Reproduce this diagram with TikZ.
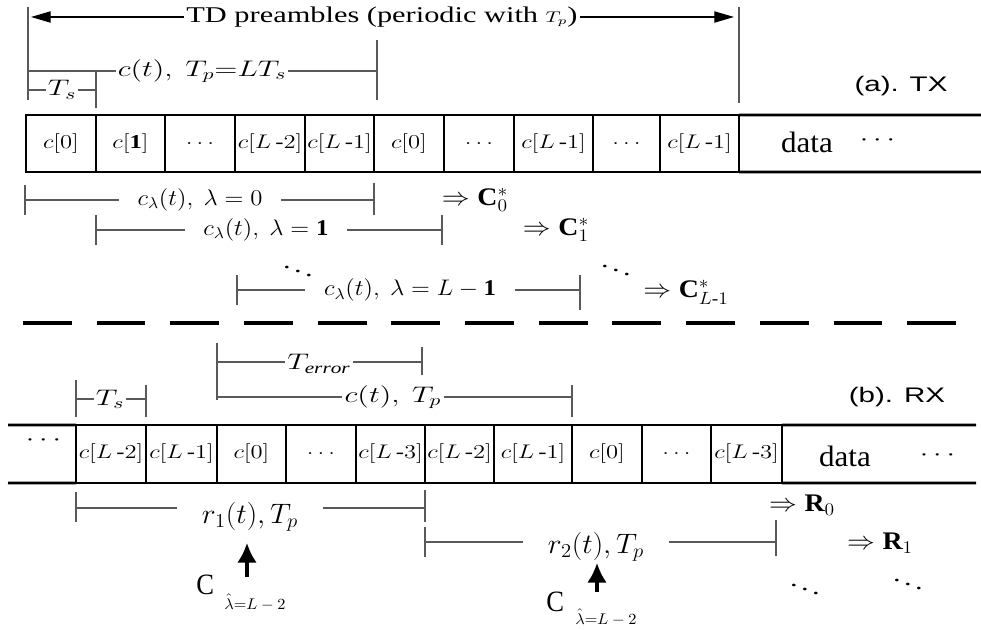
\RequirePackage{fix-cm}
\documentclass[tikz,border=0pt]{standalone}
\usepackage{amsmath}
\usepackage{fontspec}
\setmainfont{Liberation Serif}
\newfontfamily\arialfont{Liberation Sans}
\usepackage{graphicx}
\usetikzlibrary{arrows.meta}
\newcommand{\sx}[1]{\scalebox{1.25}[1]{#1}}
\newcommand{\lamsub}{$\hat{\lambda}{=}L-2$}

\begin{document}
\begin{tikzpicture}[
    x=0.025cm, y=-0.025cm,
    every node/.style={font=\fontsize{16}{18}\selectfont},
    cell/.style={draw, line width=1.8pt, outer sep=0pt, inner sep=0pt, minimum height=1.425cm, minimum width=#1*0.025cm, font=\fontsize{14}{16}\selectfont},
    lbl/.style={inner sep=1pt, xscale=1.35},
    mlbl/.style={inner ysep=1pt, inner xsep=12pt, xscale=1.1},
    rlbl/.style={inner ysep=1pt, inner xsep=17pt, xscale=1.05, font=\fontsize{20}{22}\selectfont},
    big/.style={inner sep=1pt, xscale=1.1, font=\fontsize{18}{20}\selectfont},
    datalbl/.style={inner sep=1pt, xscale=1.05, font=\fontsize{21}{23}\selectfont},
    tag/.style={inner sep=1pt, xscale=1.4, font=\arialfont\fontsize{15}{17}\selectfont},
    ccap/.style={inner sep=0pt, xscale=0.9, anchor=base west, font=\fontsize{21}{23}\selectfont},
    csub/.style={inner sep=0pt, xscale=1.05, anchor=base west, font=\fontsize{11}{13}\selectfont},
    dim/.style={draw=black!65, line width=0.8pt},
    arr/.style={line width=0.8pt, -{Triangle[length=14pt, width=8pt]}},
    rowline/.style={line width=1.8pt},
    sep/.style={line width=3pt, dash pattern=on 34.7pt off 17.7pt},
    uparrow/.style={line width=2.2pt, -{Latex[length=14pt, width=14pt]}}
]
\useasboundingbox (0,0) rectangle (981,630);

% ---------- (a) TX ----------
\coordinate (pa) at (28,7);   \coordinate (pb) at (28,100);
\coordinate (pc) at (739,7);  \coordinate (pd) at (739,103);
\draw[dim] (pa) -- (pb);
\draw[dim] (pc) -- (pd);

\coordinate (tdL) at (31,17);
\coordinate (tdR) at (734,17);
\node[lbl] (td) at (382,17) {TD preambles (periodic with {\fontsize{11}{13}\selectfont$T_p$})};
\draw[arr] (td.west) -- (tdL);
\draw[arr] (td.east) -- (tdR);

\coordinate (ctL) at (28,71);
\coordinate (ctR) at (377,71);
\coordinate (ctA) at (377,40); \coordinate (ctB) at (377,100);
\node[lbl] (ct) at (202,71) {$c(t),\ T_p{=}LT_s$};
\draw[dim] (ctL) -- (ct.west);
\draw[dim] (ct.east) -- (ctR);
\draw[dim] (ctA) -- (ctB);

\coordinate (tsL) at (28,90);
\coordinate (tsR) at (96,90);
\coordinate (tsA) at (96,70); \coordinate (tsB) at (96,108);
\node[lbl] (ts) at (62,90) {$T_s$};
\draw[dim] (tsL) -- (ts.west);
\draw[dim] (ts.east) -- (tsR);
\draw[dim] (tsA) -- (tsB);

\node[tag] (txtag) at (901,86) {(a). TX};

\node[cell=70] (tx1) at (61,143.5) {\sx{$c[0]$}};
\node[cell=69] (tx2) at (130.5,143.5) {\sx{$c[\mathbf{1}]$}};
\node[cell=70] (tx3) at (200,143.5) {\sx{$\ldots$}};
\node[cell=70] (tx4) at (270,143.5) {\sx{$c[L\,\text{-}2]$}};
\node[cell=69] (tx5) at (339.5,143.5) {\sx{$c[L\,\text{-}1]$}};
\node[cell=70] (tx6) at (409,143.5) {\sx{$c[0]$}};
\node[cell=70] (tx7) at (479,143.5) {\sx{$\ldots$}};
\node[cell=79] (tx8) at (553.5,143.5) {\sx{$c[L\,\text{-}1]$}};
\node[cell=67] (tx9) at (626.5,143.5) {\sx{$\ldots$}};
\node[cell=79] (tx10) at (699.5,143.5) {\sx{$c[L\,\text{-}1]$}};
\coordinate (txe1) at (981,115);
\coordinate (txe2) at (981,172);
\draw[rowline] (tx10.north east) -- (txe1);
\draw[rowline] (tx10.south east) -- (txe2);
\node[datalbl] (txd) at (807,142) {data};
\node[lbl] (txdots) at (880,141) {$\cdots$};

% correlation windows
\coordinate (l0a) at (25,185);  \coordinate (l0b) at (25,215);
\coordinate (l0c) at (374,183); \coordinate (l0d) at (374,215);
\coordinate (l0L) at (25,200);  \coordinate (l0R) at (374,200);
\node[mlbl] (lam0) at (200,200) {$c_{\lambda}(t),\ \lambda=0$};
\draw[dim] (l0a) -- (l0b);
\draw[dim] (l0c) -- (l0d);
\draw[dim] (l0L) -- (lam0.west);
\draw[dim] (lam0.east) -- (l0R);
\node[big] (cc0) at (475,200) {$\Rightarrow\mathbf{C}_0^*$};

\coordinate (l1a) at (96,215);  \coordinate (l1b) at (96,245);
\coordinate (l1c) at (442,215); \coordinate (l1d) at (442,245);
\coordinate (l1L) at (96,230);  \coordinate (l1R) at (442,230);
\node[mlbl] (lam1) at (266,230) {$c_{\lambda}(t),\ \lambda=\mathbf{1}$};
\draw[dim] (l1a) -- (l1b);
\draw[dim] (l1c) -- (l1d);
\draw[dim] (l1L) -- (lam1.west);
\draw[dim] (lam1.east) -- (l1R);
\node[big] (cc1) at (556,230) {$\Rightarrow\mathbf{C}_1^*$};

\node[lbl] (dd1) at (298,267) {$\ddots$};
\node[lbl] (dd2) at (616,266) {$\ddots$};

\coordinate (l2a) at (237,275); \coordinate (l2b) at (237,305);
\coordinate (l2c) at (580,275); \coordinate (l2d) at (580,310);
\coordinate (l2L) at (237,290); \coordinate (l2R) at (580,290);
\node[mlbl] (lam2) at (410,290) {$c_{\lambda}(t),\ \lambda=L-\mathbf{1}$};
\draw[dim] (l2a) -- (l2b);
\draw[dim] (l2c) -- (l2d);
\draw[dim] (l2L) -- (lam2.west);
\draw[dim] (lam2.east) -- (l2R);
\node[big] (cc2) at (686,292) {$\Rightarrow\mathbf{C}_{L\text{-}1}^*$};

% ---------- separator ----------
\coordinate (sepL) at (23,323);
\coordinate (sepR) at (981,323);
\draw[sep] (sepL) -- (sepR);

% ---------- (b) RX ----------
\coordinate (teA) at (217,343); \coordinate (teB) at (217,400);
\coordinate (teC) at (422,347); \coordinate (teD) at (422,375);
\coordinate (teL) at (217,362); \coordinate (teR) at (422,362);
\node[lbl] (te) at (319,364) {$T_{\mathit{error}}$};
\draw[dim] (teA) -- (teB);
\draw[dim] (teC) -- (teD);
\draw[dim] (teL) -- (teL -| te.west);
\draw[dim] (teR -| te.east) -- (teR);

\coordinate (cpL) at (217,397); \coordinate (cpR) at (572,397);
\coordinate (cpA) at (572,385); \coordinate (cpB) at (572,417);
\node[lbl] (cp) at (393,397) {$c(t),\ T_p$};
\draw[dim] (cpL) -- (cp.west);
\draw[dim] (cp.east) -- (cpR);
\draw[dim] (cpA) -- (cpB);

\coordinate (rsA) at (76,380);  \coordinate (rsB) at (76,417);
\coordinate (rsC) at (146,385); \coordinate (rsD) at (146,417);
\coordinate (rsL) at (76,399);  \coordinate (rsR) at (146,399);
\node[lbl] (rs) at (110,399) {$T_s$};
\draw[dim] (rsA) -- (rsB);
\draw[dim] (rsC) -- (rsD);
\draw[dim] (rsL) -- (rs.west);
\draw[dim] (rs.east) -- (rsR);

\node[tag] (rxtag) at (897,397) {(b). RX};

\node[cell=70, minimum height=1.45cm] (rx1) at (111,454) {\sx{$c[L\,\text{-}2]$}};
\node[cell=71, minimum height=1.45cm] (rx2) at (181.5,454) {\sx{$c[L\,\text{-}1]$}};
\node[cell=69, minimum height=1.45cm] (rx3) at (251.5,454) {\sx{$c[0]$}};
\node[cell=70, minimum height=1.45cm] (rx4) at (321,454) {\sx{$\ldots$}};
\node[cell=69, minimum height=1.45cm] (rx5) at (390.5,454) {\sx{$c[L\,\text{-}3]$}};
\node[cell=69, minimum height=1.45cm] (rx6) at (459.5,454) {\sx{$c[L\,\text{-}2]$}};
\node[cell=78, minimum height=1.45cm] (rx7) at (533,454) {\sx{$c[L\,\text{-}1]$}};
\node[cell=70, minimum height=1.45cm] (rx8) at (607,454) {\sx{$c[0]$}};
\node[cell=69, minimum height=1.45cm] (rx9) at (676.5,454) {\sx{$\ldots$}};
\node[cell=71, minimum height=1.45cm] (rx10) at (746.5,454) {\sx{$c[L\,\text{-}3]$}};
\coordinate (rxs1) at (8,425);   \coordinate (rxs2) at (8,483);
\coordinate (rxe1) at (976,425); \coordinate (rxe2) at (976,483);
\draw[rowline] (rxs1) -- (rx1.north west);
\draw[rowline] (rxs2) -- (rx1.south west);
\draw[rowline] (rx10.north east) -- (rxe1);
\draw[rowline] (rx10.south east) -- (rxe2);
\node[lbl] (rxpre) at (46,440) {$\cdots$};
\node[datalbl] (rxd) at (845,456) {data};
\node[lbl] (rxdots) at (940,455) {$\cdots$};

% received windows
\coordinate (r1a) at (76,492);  \coordinate (r1b) at (76,522);
\coordinate (r1c) at (425,490); \coordinate (r1d) at (425,522);
\coordinate (r1L) at (76,508);  \coordinate (r1R) at (425,508);
\node[rlbl] (rr1) at (250,517) {$r_1(t), T_p$};
\draw[dim] (r1a) -- (r1b);
\draw[dim] (r1c) -- (r1d);
\draw[dim] (r1L) -- (r1L -| rr1.west);
\draw[dim] (r1R -| rr1.east) -- (r1R);

\coordinate (r2a) at (425,527); \coordinate (r2b) at (425,557);
\coordinate (r2c) at (776,520); \coordinate (r2d) at (776,556);
\coordinate (r2L) at (425,542); \coordinate (r2R) at (776,542);
\node[rlbl] (rr2) at (596,547) {$r_2(t), T_p$};
\draw[dim] (r2a) -- (r2b);
\draw[dim] (r2c) -- (r2d);
\draw[dim] (r2L) -- (r2L -| rr2.west);
\draw[dim] (r2R -| rr2.east) -- (r2R);

\coordinate (up1a) at (247,577); \coordinate (up1b) at (247,543);
\coordinate (up2a) at (597,592); \coordinate (up2b) at (597,563);
\draw[uparrow] (up1a) -- (up1b);
\draw[uparrow] (up2a) -- (up2b);
\node[ccap] (ch1) at (196,594) {C};
\node[csub] (ch1s) at (224,609) {\lamsub};
\node[ccap] (ch2) at (546,611) {C};
\node[csub] (ch2s) at (575,624) {\lamsub};

\node[big] (rr0) at (802,505) {$\Rightarrow\mathbf{R}_0$};
\node[big] (rrr1) at (880,543) {$\Rightarrow\mathbf{R}_1$};
\node[lbl] (dd3) at (805,585) {$\ddots$};
\node[lbl] (dd4) at (908,580) {$\ddots$};
\end{tikzpicture}
\end{document}
